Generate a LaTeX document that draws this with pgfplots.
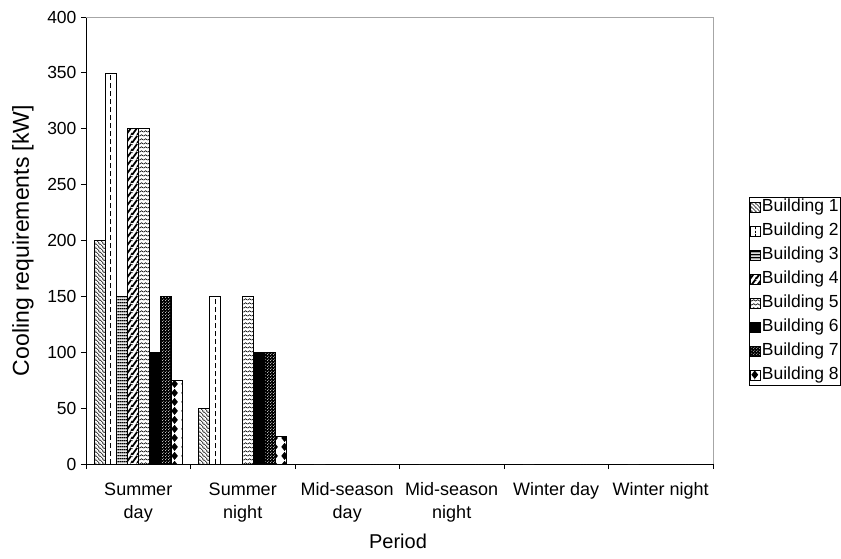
\documentclass[border=0pt]{standalone}
\usepackage{pgfplots}
\pgfplotsset{compat=1.18}
\usepackage{fontspec}
\setmainfont{Liberation Sans}
\usetikzlibrary{patterns,patterns.meta}

% fill patterns for the eight buildings
\tikzdeclarepattern{name=thinNW, type=uncolored,
  bounding box={(0pt,0pt) and (4pt,4pt)}, tile size={(4pt,4pt)},
  code={\draw[line width=0.6pt] (-2pt,2pt)--(2pt,-2pt) (0pt,4pt)--(4pt,0pt) (2pt,6pt)--(6pt,2pt);}}
\tikzdeclarepattern{name=thickH, type=uncolored,
  bounding box={(0pt,0pt) and (2pt,3.3pt)}, tile size={(2pt,3.3pt)},
  code={\draw[line width=1.6pt] (-0.5pt,1.65pt)--(2.5pt,1.65pt);}}
\tikzdeclarepattern{name=wideNE, type=uncolored,
  bounding box={(0pt,0pt) and (6pt,8pt)}, tile size={(6pt,8pt)},
  code={\draw[line width=2pt] (-6pt,0pt)--(0pt,8pt) (0pt,0pt)--(6pt,8pt) (6pt,0pt)--(12pt,8pt) (-3pt,-4pt)--(3pt,4pt);}}
\tikzdeclarepattern{name=zigzag, type=uncolored,
  bounding box={(0pt,0pt) and (4pt,3.6pt)}, tile size={(4pt,3.6pt)},
  code={\draw[line width=0.7pt] (-0.5pt,0.9pt)--(2pt,2.5pt)--(4.5pt,0.9pt);}}
\tikzdeclarepattern{name=smalldots, type=uncolored,
  bounding box={(0pt,0pt) and (3pt,3pt)}, tile size={(3pt,3pt)},
  code={\fill (0.75pt,0.75pt) circle (0.55pt); \fill (2.25pt,2.25pt) circle (0.55pt);}}
\tikzdeclarepattern{name=diamonds, type=uncolored,
  bounding box={(0pt,0pt) and (10pt,9pt)}, tile size={(10pt,9pt)},
  code={\fill (5pt,0pt)--(8.6pt,4.5pt)--(5pt,9pt)--(1.4pt,4.5pt)--cycle;}}

% legend swatches
\pgfplotsset{
  sqlegend/.style={legend image code/.code={\draw[##1] (0pt,-5pt) rectangle (10pt,5pt);}},
  sqdashlegend/.style={legend image code/.code={\draw[##1] (0pt,-5pt) rectangle (10pt,5pt);
      \draw[black, line width=0.7pt, dash pattern=on 2pt off 1.5pt] (5pt,-5pt)--(5pt,5pt);}},
}

% cooling requirements per period (0 = Summer day ... 5 = Winter night)
\pgfplotstableread{
x b1 b2 b3 b4 b5 b6 b7 b8
0 200 350 150 300 300 100 150 75
1 50 150 0 0 150 100 100 25
2 0 0 0 0 0 0 0 0
3 0 0 0 0 0 0 0 0
4 0 0 0 0 0 0 0 0
5 0 0 0 0 0 0 0 0
}\cooling

\begin{document}
\begin{tikzpicture}
\useasboundingbox (-86pt,-94pt) rectangle (755pt,464pt);
\begin{axis}[
  at={(0pt,0pt)}, anchor=south west,
  scale only axis, width=627pt, height=447pt,
  xmin=-0.5, xmax=5.5, ymin=0, ymax=400,
  enlarge x limits=false,
  ybar, bar width=11pt,
  axis x line*=bottom, axis y line*=left,
  axis line style={line width=0.8pt, black, -},
  tick align=outside,
  ytick={0,50,...,400},
  major tick length=5pt, minor tick length=5pt,
  tick style={black, line width=0.8pt},
  xtick={0,...,5},
  xticklabels={Summer\\day, Summer\\night, Mid-season\\day, Mid-season\\night, Winter day, Winter night},
  minor xtick={-0.5,0.5,...,5.5},
  major x tick style={draw=none},
  xticklabel style={align=center, font=\fontsize{18}{23}\selectfont, yshift=-10pt},
  yticklabel style={font=\fontsize{17.5}{20}\selectfont, xshift=-1pt},
  /pgf/number format/assume math mode=true,
  xlabel={Period}, ylabel={Cooling requirements [kW]},
  every axis x label/.style={at={(axis description cs:0.4976,-0.172)}, anchor=center, font=\fontsize{20}{24}\selectfont},
  every axis y label/.style={at={(axis description cs:-0.1005,0.5)}, anchor=center, rotate=90, font=\fontsize{23}{26}\selectfont},
  legend style={at={(axis description cs:1.0574,0.597)}, anchor=north west,
    draw=black, line width=0.6pt, font=\fontsize{17.5}{20}\selectfont,
    inner xsep=1pt, inner ysep=1pt, row sep=6pt,
    nodes={inner xsep=1pt, inner ysep=1pt, text height=12.5pt, text depth=3.5pt},
    cells={anchor=west}},
  every axis plot/.append style={draw=black, line width=0.6pt},
  after end axis/.code={\draw[line width=0.9pt, black!35] (rel axis cs:0,1)--(rel axis cs:1,1)--(rel axis cs:1,0);},
]
\addplot[bar shift=-38.5pt, fill=white, pattern=thinNW, sqlegend] table[x=x, y=b1] {\cooling};
\addlegendentry{Building 1}
\addplot[bar shift=-27.5pt, fill=white, sqdashlegend] table[x=x, y=b2] {\cooling};
\addlegendentry{Building 2}
\addplot[bar shift=-16.5pt, fill=white, pattern=thickH, sqlegend] table[x=x, y=b3] {\cooling};
\addlegendentry{Building 3}
\addplot[bar shift=-5.5pt, fill=white, pattern=wideNE, sqlegend] table[x=x, y=b4] {\cooling};
\addlegendentry{Building 4}
\addplot[bar shift=5.5pt, fill=white, pattern=zigzag, sqlegend] table[x=x, y=b5] {\cooling};
\addlegendentry{Building 5}
\addplot[bar shift=16.5pt, fill=black, sqlegend] table[x=x, y=b6] {\cooling};
\addlegendentry{Building 6}
\addplot[bar shift=27.5pt, fill=black, postaction={pattern=smalldots, pattern color=white}, sqlegend] table[x=x, y=b7] {\cooling};
\addlegendentry{Building 7}
\addplot[bar shift=38.5pt, fill=white, pattern=diamonds, sqlegend] table[x=x, y=b8] {\cooling};
\addlegendentry{Building 8}
% dashed centre line inside the Building 2 bars
\addplot[ycomb, forget plot, xshift=-27.5pt, draw=black, line width=1.3pt, dash pattern=on 5pt off 3pt, mark=none] table[x=x, y=b2] {\cooling};
\end{axis}
\end{tikzpicture}
\end{document}
